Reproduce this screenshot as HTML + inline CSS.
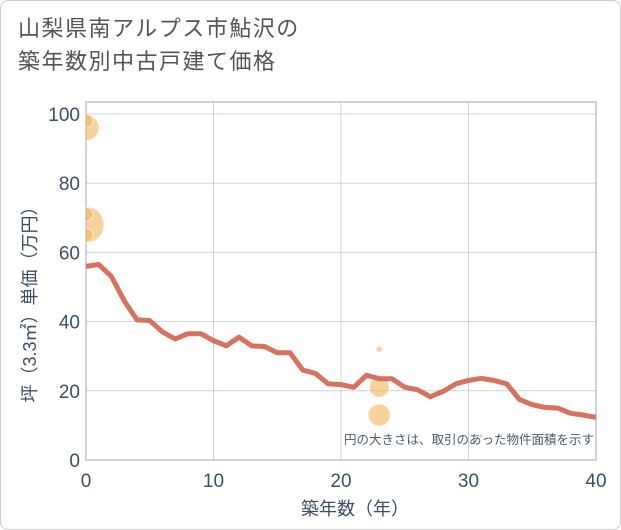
<!DOCTYPE html>
<html><head><meta charset="utf-8"><style>
body{margin:0;background:#fff}
.wrap{position:relative;width:619px;height:528px;border:1px solid #ccc;border-radius:8px;background:#fff;overflow:hidden}
h1{position:absolute;left:17px;top:11px;margin:0;font:400 22px/33px "Liberation Sans","Noto Sans CJK JP",sans-serif;color:#555;letter-spacing:1.5px}
svg text{font-family:"Liberation Sans","Noto Sans CJK JP",sans-serif}
</style></head><body>
<div class="wrap">
<h1>山梨県南アルプス市鮎沢の<br>築年数別中古戸建て価格</h1>
<svg id="c" width="621" height="530" style="position:absolute;left:-1px;top:-1px"></svg>
</div>
<script>
const years=[0,1,2,3,4,5,6,7,8,9,10,11,12,13,14,15,16,17,18,19,20,21,22,23,24,25,26,27,28,29,30,31,32,33,34,35,36,37,38,39,40];
const prices=[56,56.5,53,46,40.5,40.3,37,35,36.5,36.5,34.5,33,35.5,33,32.8,31,31,26,25,22,21.8,21,24.5,23.5,23.5,21,20.3,18.3,19.8,22,23,23.6,23,22,17.5,16,15.2,15,13.5,13,12.3];
const bubbleX=[0,0,0,0,0,23,23,23,31];
const bubbleY=[96,98,68,71,65,32,21,13,7];
const bubbleR=[13,7,18,7,7,3,10,11,2];
const xTicks=[0,10,20,30,40];
const yTicks=[0,20,40,60,80,100];
const NS="http://www.w3.org/2000/svg";
const svg=document.getElementById('c');
const L=86,R=596,T=102,B=460;
const sx=v=>L+(v-0)/40*(R-L);
const sy=v=>B-v/100*(B-114);
function mk(t,a,p){const e=document.createElementNS(NS,t);for(const k in a)e.setAttribute(k,a[k]);(p||svg).appendChild(e);return e;}
const g=mk('g',{});


yTicks.forEach(v=>{const l=mk('line',{x1:L,x2:R,y1:sy(v),y2:sy(v),stroke:'#c8d4e2','stroke-width':1},g);


const t=mk('text',{x:L-6,y:sy(v)+7,'text-anchor':'end','font-size':19,fill:'#3d4f63'});t.textContent=v;

});
xTicks.forEach(v=>{const l=mk('line',{x1:sx(v),x2:sx(v),y1:T,y2:B,stroke:'#c8d4e2','stroke-width':1},g);


const t=mk('text',{x:sx(v),y:B+27,'text-anchor':'middle','font-size':19,fill:'#3d4f63'});t.textContent=v;

});
const fr=mk('rect',{x:L,y:T,width:R-L,height:B-T,fill:'none',stroke:'#a0a8b0','stroke-width':1});


const clip=mk('clipPath',{id:'cp'});mk('rect',{x:L,y:T,width:R-L,height:B-T},clip);
const bg=mk('g',{'clip-path':'url(#cp)'});
bubbleX.forEach((x,i)=>{const c=mk('circle',{cx:sx(x),cy:sy(bubbleY[i]),r:bubbleR[i],fill:'#f0b65a','fill-opacity':0.6,stroke:'#fff','stroke-opacity':0.6,'stroke-width':1},bg);

});
const pl=mk('polyline',{points:years.map((y,i)=>sx(y)+','+sy(prices[i])).join(' '),fill:'none',stroke:'#d46a55','stroke-width':5,'stroke-linejoin':'round','stroke-opacity':0.95},bg);


const note=mk('text',{x:594,y:444,'text-anchor':'end','font-size':12.5,fill:'#4a5a6a'});note.textContent='円の大きさは、取引のあった物件面積を示す';


const xt=mk('text',{x:355,y:515,'text-anchor':'middle','font-size':18,fill:'#3d4f63'});xt.textContent='築年数（年）';


const yt=mk('text',{x:0,y:0,'text-anchor':'middle','font-size':18,fill:'#3d4f63',transform:'translate(36,300) rotate(-90)'});yt.textContent='坪（3.3㎡）単価（万円）';


</script>
</body></html>
